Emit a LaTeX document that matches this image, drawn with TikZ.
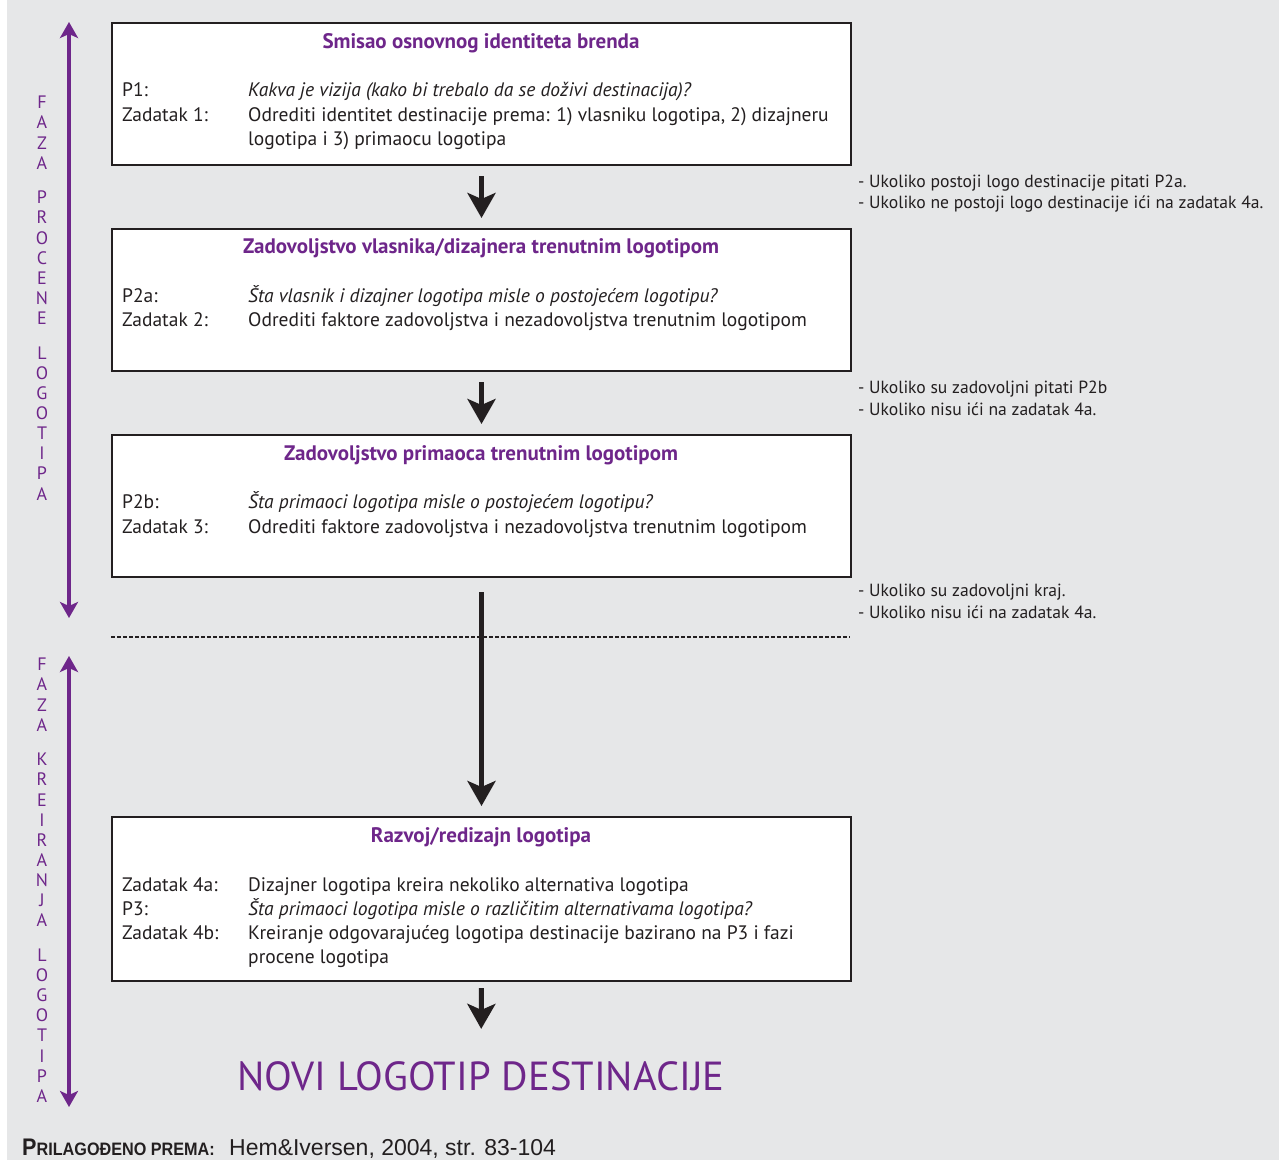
\documentclass[tikz,border=0pt]{standalone}
\usepackage{fontspec}
\usepackage{graphicx}
\setmainfont{PT Sans}
\newfontfamily\capfont{Liberation Sans}
\usetikzlibrary{arrows.meta}
\definecolor{bg}{RGB}{230,231,232}
\definecolor{pur}{RGB}{110,38,138}
\definecolor{ink}{RGB}{35,31,32}
\begin{document}
\begin{tikzpicture}[x=1pt,y=-1pt,
  box/.style={draw=ink,line width=2pt,fill=white,minimum width=739pt,inner sep=0pt,anchor=north west},
  ttl/.style={anchor=base,inner sep=0pt,text=pur,font=\fontsize{21}{24}\selectfont\bfseries},
  lab/.style={anchor=base west,inner sep=0pt,text=ink,font=\fontsize{19.5}{22}\selectfont},
  note/.style={anchor=base west,inner sep=0pt,text=ink,font=\fontsize{17.6}{20}\selectfont},
  phase/.style={anchor=north,inner sep=0pt,text=pur,align=center,font=\fontsize{18}{20.15}\selectfont},
  bigarrow/.style={draw=ink,line width=5pt,-{Stealth[length=25pt,width=28pt,inset=6pt]}},
  parrow/.style={draw=pur,line width=4pt,{Stealth[length=16pt,width=18pt,inset=4pt]}-{Stealth[length=16pt,width=18pt,inset=4pt]}},
  sep/.style={draw=ink,line width=1.6pt,dash pattern=on 3.5pt off 2.5pt}
]
\useasboundingbox (0,0) rectangle (1279,1160);
\fill[bg] (7,0) rectangle (1279,1160);

% boxes
\node[box,minimum height=142pt] (b1) at (111,22) {};
\node[box,minimum height=142pt] (b2) at (111,228) {};
\node[box,minimum height=142pt] (b3) at (111,434) {};
\node[box,minimum height=164pt] (b4) at (111,816) {};

% box 1
\node[ttl] (t1) at (481,48) {Smisao osnovnog identiteta brenda};
\node[lab] (l1a) at (122,96) {P1:};
\node[lab] (l1b) at (122,121) {Zadatak 1:};
\node[lab] (x1a) at (248,96) {\itshape Kakva je vizija (kako bi trebalo da se doživi destinacija)?};
\node[lab] (x1b) at (248,121) {Odrediti identitet destinacije prema: 1) vlasniku logotipa, 2) dizajneru};
\node[lab] (x1c) at (248,145) {logotipa i 3) primaocu logotipa};

% box 2
\node[ttl] (t2) at (481,253) {Zadovoljstvo vlasnika/dizajnera trenutnim logotipom};
\node[lab] (l2a) at (122,302) {P2a:};
\node[lab] (l2b) at (122,326) {Zadatak 2:};
\node[lab] (x2a) at (248,302) {\itshape Šta vlasnik i dizajner logotipa misle o postojećem logotipu?};
\node[lab] (x2b) at (248,326) {Odrediti faktore zadovoljstva i nezadovoljstva trenutnim logotipom};

% box 3
\node[ttl] (t3) at (481,460) {Zadovoljstvo primaoca trenutnim logotipom};
\node[lab] (l3a) at (122,508) {P2b:};
\node[lab] (l3b) at (122,533) {Zadatak 3:};
\node[lab] (x3a) at (248,508) {\itshape Šta primaoci logotipa misle o postojećem logotipu?};
\node[lab] (x3b) at (248,533) {Odrediti faktore zadovoljstva i nezadovoljstva trenutnim logotipom};

% box 4
\node[ttl] (t4) at (481,842) {Razvoj/redizajn logotipa};
\node[lab] (l4a) at (122,891) {Zadatak 4a:};
\node[lab] (l4b) at (122,915) {P3:};
\node[lab] (l4c) at (122,939) {Zadatak 4b:};
\node[lab] (x4a) at (248,891) {Dizajner logotipa kreira nekoliko alternativa logotipa};
\node[lab] (x4b) at (248,915) {\itshape Šta primaoci logotipa misle o različitim alternativama logotipa?};
\node[lab] (x4c) at (248,939) {Kreiranje odgovarajućeg logotipa destinacije bazirano na P3 i fazi};
\node[lab] (x4d) at (248,963) {procene logotipa};

% final
\node[anchor=base,inner sep=0pt,text=pur,font=\fontsize{40.6}{44}\selectfont] (fin) at (481,1090) {NOVI LOGOTIP DESTINACIJE};

% notes
\node[note] (n1) at (858,187) {- Ukoliko postoji logo destinacije pitati P2a.};
\node[note] (n2) at (858,208) {- Ukoliko ne postoji logo destinacije ići na zadatak 4a.};
\node[note] (n3) at (858,393) {- Ukoliko su zadovoljni pitati P2b};
\node[note] (n4) at (858,415) {- Ukoliko nisu ići na zadatak 4a.};
\node[note] (n5) at (858,596) {- Ukoliko su zadovoljni kraj.};
\node[note] (n6) at (858,618) {- Ukoliko nisu ići na zadatak 4a.};

% black arrows
\draw[bigarrow,shorten <=10pt,shorten >=10pt] (b1.south) -- (b2.north);
\draw[bigarrow,shorten <=10pt,shorten >=10pt] (b2.south) -- (b3.north);
\draw[bigarrow,shorten <=14pt,shorten >=10pt] (b3.south) -- (b4.north);
\draw[bigarrow,shorten <=6pt,shorten >=32pt] (b4.south) -- (fin.north);

% separator
\coordinate (s1) at (111,637);
\coordinate (s2) at (850,637);
\draw[sep] (s1) -- (s2);

% phase arrows
\coordinate (p1t) at (69,22);
\coordinate (p1b) at (69,618);
\coordinate (p2t) at (69,656);
\coordinate (p2b) at (69,1107);
\draw[parrow] (p1t) -- (p1b);
\draw[parrow] (p2t) -- (p2b);

\node[phase] (ph1) at (42,96) {F\\A\\Z\\A\\[14.3pt]P\\R\\O\\C\\E\\N\\E\\[14.3pt]L\\O\\G\\O\\T\\I\\P\\A};
\node[phase] (ph2) at (42,658) {F\\A\\Z\\A\\[14.3pt]K\\R\\E\\I\\R\\A\\N\\J\\A\\[14.3pt]L\\O\\G\\O\\T\\I\\P\\A};

% caption
\node[anchor=base west,inner sep=0pt,text=ink] (cap1) at (22,1155) {\capfont\bfseries\scalebox{0.9}[1]{\fontsize{24}{26}\selectfont P\fontsize{18}{20}\selectfont RILAGOĐENO PREMA:}};
\node[anchor=base west,inner sep=0pt,text=ink] (cap2) at (229,1155) {\capfont\fontsize{23}{26}\selectfont Hem\&Iversen, 2004, str. 83-104};
\end{tikzpicture}
\end{document}
